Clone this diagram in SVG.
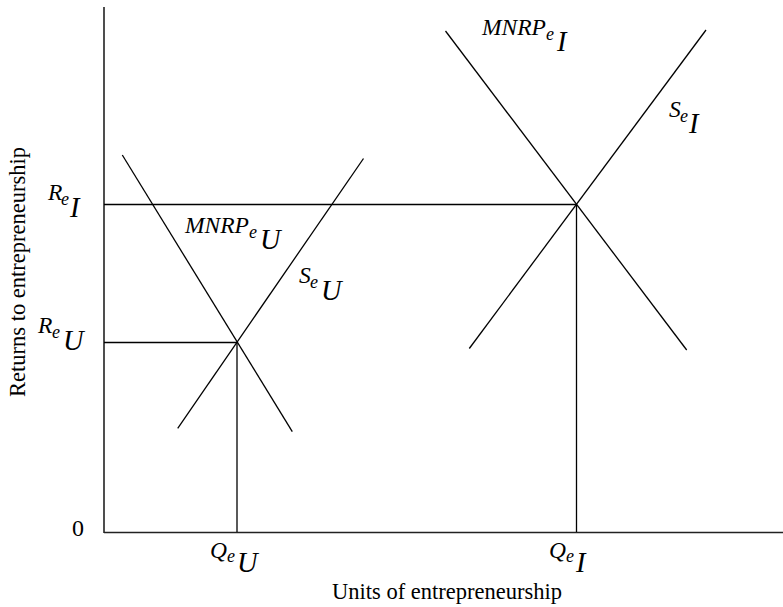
<svg xmlns="http://www.w3.org/2000/svg" width="783" height="607" viewBox="0 0 783 607">
<style>
  .ax { stroke: #222; stroke-width: 1.6; fill: none; }
  .ln { stroke: #000; stroke-width: 1.3; fill: none; }
  text { font-family: "Liberation Serif", "Times New Roman", serif; fill: #000; }
  .lab { font-size: 22.5px; }
  .zero { font-size: 24px; }
  .sm { font-size: 23.5px; font-style: italic; }
  .se { font-size: 18px; font-style: italic; }
  .bg { font-size: 28.5px; font-style: italic; }
</style>
<rect width="783" height="607" fill="#fff"/>
<g id="axes">
  <line class="ax" x1="104" y1="7" x2="104" y2="533"/>
  <line class="ax" x1="104" y1="532.5" x2="783" y2="532.5"/>
</g>
<g id="connectors">
  <line class="ln" x1="104" y1="204.5" x2="576.5" y2="204.5"/>
  <line class="ln" x1="576.5" y1="204.5" x2="576.5" y2="532"/>
  <line class="ln" x1="104" y1="342.5" x2="237" y2="342.5"/>
  <line class="ln" x1="237" y1="342.5" x2="237" y2="532"/>
</g>
<g id="curve-MNRPeU"><line class="ln" x1="122.3" y1="155" x2="292.3" y2="431.7"/></g>
<g id="curve-SeU"><line class="ln" x1="363.5" y1="158.5" x2="177.7" y2="428.3"/></g>
<g id="curve-MNRPeI"><line class="ln" x1="445.5" y1="31" x2="686.7" y2="350"/></g>
<g id="curve-SeI"><line class="ln" x1="706" y1="30" x2="469.3" y2="348.5"/></g>
<g id="label-ReI"><text><tspan class="sm" x="48" y="200">R</tspan><tspan class="se" x="61" y="205">e</tspan><tspan class="bg" x="70" y="217">I</tspan></text></g>
<g id="label-ReU"><text><tspan class="sm" x="38" y="333">R</tspan><tspan class="se" x="52" y="338">e</tspan><tspan class="bg" x="63" y="350">U</tspan></text></g>
<g id="label-MNRPeU"><text><tspan class="sm" x="185" y="233">MNRP</tspan><tspan class="se" x="249" y="238">e</tspan><tspan class="bg" x="260" y="249">U</tspan></text></g>
<g id="label-SeU"><text><tspan class="sm" x="299" y="283">S</tspan><tspan class="se" x="310" y="288">e</tspan><tspan class="bg" x="321" y="300">U</tspan></text></g>
<g id="label-MNRPeI"><text><tspan class="sm" x="482" y="35">MNRP</tspan><tspan class="se" x="546" y="40">e</tspan><tspan class="bg" x="557" y="51">I</tspan></text></g>
<g id="label-SeI"><text><tspan class="sm" x="669" y="117">S</tspan><tspan class="se" x="680" y="122">e</tspan><tspan class="bg" x="689" y="133">I</tspan></text></g>
<g id="label-QeU"><text><tspan class="sm" x="210" y="558">Q</tspan><tspan class="se" x="227" y="562">e</tspan><tspan class="bg" x="237" y="572">U</tspan></text></g>
<g id="label-QeI"><text><tspan class="sm" x="549" y="558">Q</tspan><tspan class="se" x="566" y="562">e</tspan><tspan class="bg" x="576" y="572">I</tspan></text></g>
<g id="label-zero"><text class="zero" x="72" y="536">0</text></g>
<g id="label-x"><text class="lab" x="447" y="599" text-anchor="middle">Units of entrepreneurship</text></g>
<g id="label-y"><text class="lab" transform="translate(25,272) rotate(-90)" text-anchor="middle">Returns to entrepreneurship</text></g>
</svg>
